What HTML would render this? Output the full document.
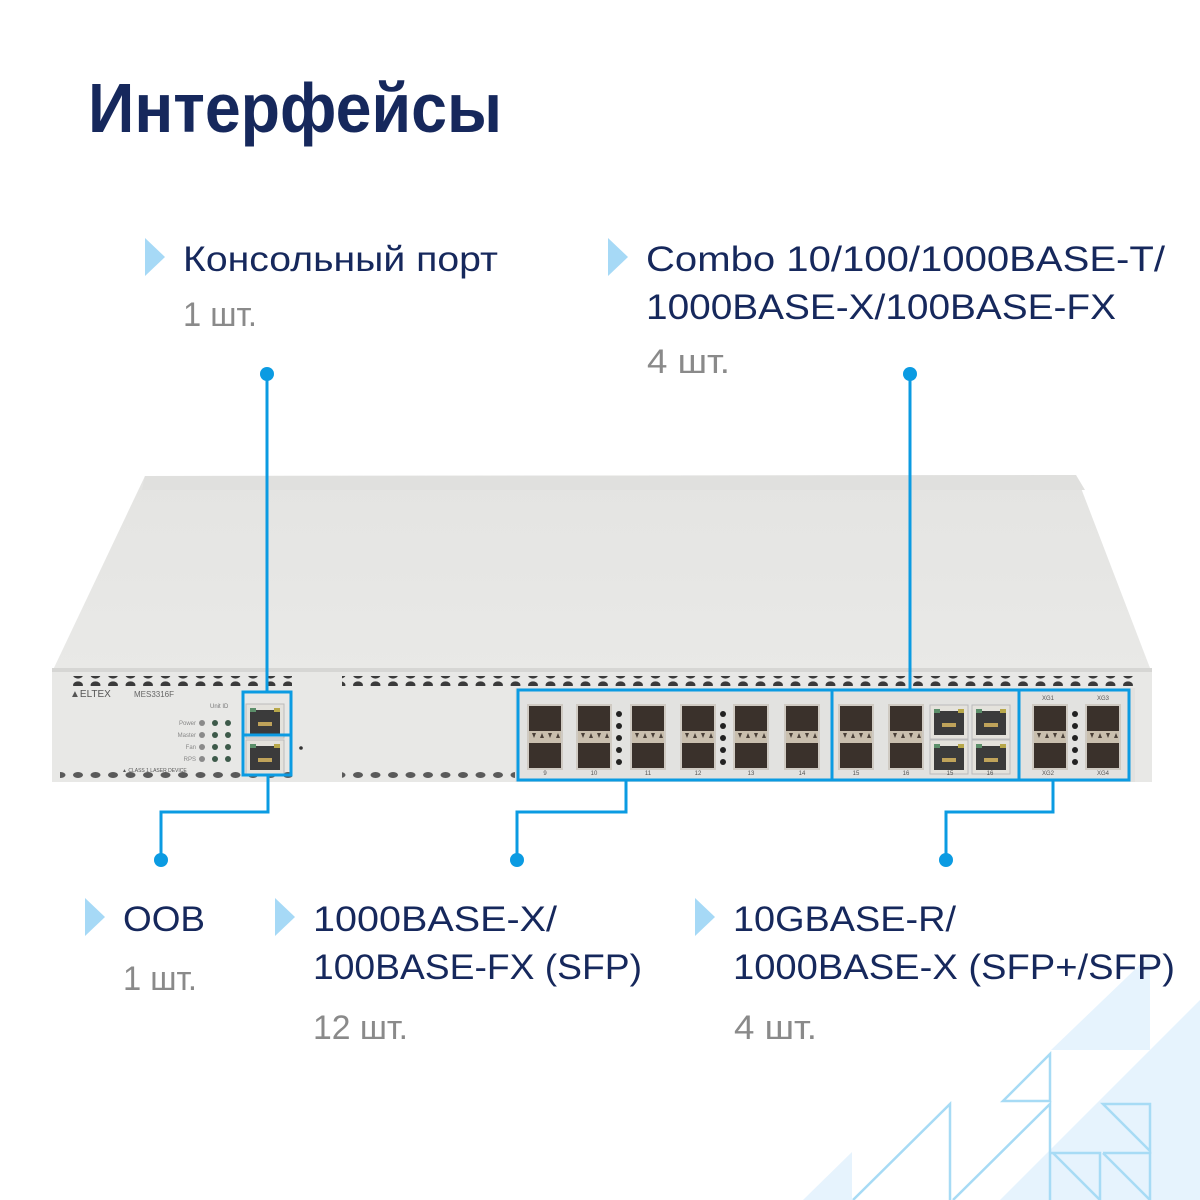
<!DOCTYPE html>
<html><head><meta charset="utf-8"><style>
html,body{margin:0;padding:0;background:#fff;}
svg{display:block}
.t{font-family:"Liberation Sans","Noto Sans CJK SC",sans-serif;fill:#16285c;}
.g{font-family:"Liberation Sans",sans-serif;fill:#8a8a8a;}
</style></head><body>
<svg width="1200" height="1200" viewBox="0 0 1200 1200" xmlns="http://www.w3.org/2000/svg">
<defs>
<linearGradient id="top" x1="0" y1="0" x2="0" y2="1"><stop offset="0" stop-color="#e4e4e2"/><stop offset="1" stop-color="#e9e9e7"/></linearGradient>
<pattern id="holes" x="0" y="0" width="17.5" height="10" patternUnits="userSpaceOnUse"><ellipse cx="8" cy="5" rx="5" ry="3.6" fill="#3b3b3b"/></pattern>
<pattern id="holes2" x="0" y="0" width="17.5" height="10" patternUnits="userSpaceOnUse"><ellipse cx="8" cy="5" rx="5" ry="3" fill="#5a5a5a"/></pattern>
<g id="sfp">
<rect x="0" y="0" width="36" height="66" fill="#cfcac2"/>
<rect x="2" y="2" width="32" height="28" fill="#3a312b"/>
<rect x="2" y="36" width="32" height="28" fill="#3a312b"/>
<rect x="2" y="27" width="32" height="12" fill="#c9bfae"/>
<path d="M5 29 l4 0 l-2 5z M13 34 l4 0 l-2 -5z M21 29 l4 0 l-2 5z M29 34 l4 0 l-2 -5z" fill="#4a4038"/>
</g>
<g id="rj">
<rect x="0" y="0" width="38" height="34" fill="#e4e2dc" stroke="#bbb"/>
<rect x="4" y="6" width="30" height="24" fill="#3b3b3b"/>
<rect x="4" y="4" width="6" height="4" fill="#5c8f6a"/><rect x="28" y="4" width="6" height="4" fill="#b8a84a"/>
<rect x="12" y="18" width="14" height="4" fill="#bfa35a"/>
</g>
</defs>

<!-- background decoration -->
<g fill="#e6f3fd">
<polygon points="1051,1050 1150,1050 1150,955"/>
<polygon points="1200,1000 1150,1050 1000,1200 1200,1200"/>
<polygon points="852,1152 852,1200 803,1200"/>
</g>
<g fill="none" stroke="#a7dbf5" stroke-width="2.5">
<polygon points="1050,1054 1050,1101 1003,1101"/>
<polyline points="853,1200 950,1104 950,1200"/>
<polyline points="953,1200 1050,1104 1050,1200"/>
<polygon points="1103,1104 1150,1104 1150,1151"/>
<polyline points="1050,1153 1100,1153 1100,1200"/>
<line x1="1053" y1="1153" x2="1100" y2="1200"/>
<polyline points="1103,1153 1150,1153 1150,1200"/>
<line x1="1103" y1="1153" x2="1150" y2="1200"/>
</g>

<!-- title -->
<text class="t" x="88" y="132" font-size="70" font-weight="bold" textLength="414" lengthAdjust="spacingAndGlyphs">Интерфейсы</text>

<!-- markers -->
<g fill="#a6d9f6">
<polygon points="145,238 165,257 145,276"/>
<polygon points="608,238 628,257 608,276"/>
<polygon points="85,898 105,917 85,936"/>
<polygon points="275,898 295,917 275,936"/>
<polygon points="695,898 715,917 695,936"/>
</g>

<!-- labels -->
<text class="t" x="183" y="271" font-size="35" textLength="315" lengthAdjust="spacingAndGlyphs">Консольный порт</text>
<text class="g" x="183" y="326" font-size="34" textLength="74" lengthAdjust="spacingAndGlyphs">1 шт.</text>
<text class="t" x="646" y="271" font-size="35" textLength="519" lengthAdjust="spacingAndGlyphs">Combo 10/100/1000BASE-T/</text>
<text class="t" x="646" y="319" font-size="35" textLength="470" lengthAdjust="spacingAndGlyphs">1000BASE-X/100BASE-FX</text>
<text class="g" x="647" y="373" font-size="34" textLength="83" lengthAdjust="spacingAndGlyphs">4 шт.</text>

<text class="t" x="123" y="931" font-size="35" textLength="82" lengthAdjust="spacingAndGlyphs">OOB</text>
<text class="g" x="123" y="990" font-size="34" textLength="74" lengthAdjust="spacingAndGlyphs">1 шт.</text>
<text class="t" x="313" y="931" font-size="35" textLength="244" lengthAdjust="spacingAndGlyphs">1000BASE-X/</text>
<text class="t" x="313" y="979" font-size="35" textLength="329" lengthAdjust="spacingAndGlyphs">100BASE-FX (SFP)</text>
<text class="g" x="313" y="1039" font-size="34" textLength="95" lengthAdjust="spacingAndGlyphs">12 шт.</text>
<text class="t" x="733" y="931" font-size="35" textLength="223" lengthAdjust="spacingAndGlyphs">10GBASE-R/</text>
<text class="t" x="733" y="979" font-size="35" textLength="442" lengthAdjust="spacingAndGlyphs">1000BASE-X (SFP+/SFP)</text>
<text class="g" x="734" y="1039" font-size="34" textLength="83" lengthAdjust="spacingAndGlyphs">4 шт.</text>

<!-- device -->
<polygon points="145,476 1076,475 1150,668 52,672" fill="url(#top)"/>
<polygon points="145,476 1076,475 1085,490 142,490" fill="#e0e0de"/>
<rect x="52" y="668" width="1100" height="114" fill="#e8e8e6"/>
<rect x="52" y="668" width="1100" height="4" fill="#d6d6d4"/>
<rect x="70" y="676" width="1070" height="10" fill="url(#holes)"/>
<rect x="60" y="771" width="1080" height="10" fill="url(#holes2)"/>
<rect x="292" y="676" width="50" height="10" fill="#e8e8e6"/>
<rect x="292" y="771" width="50" height="10" fill="#e8e8e6"/>
<rect x="515" y="688" width="620" height="94" fill="#e2e2e0"/>

<text x="70" y="697" font-family="Liberation Sans,sans-serif" font-size="10" fill="#555">▲ELTEX</text>
<text x="134" y="697" font-family="Liberation Sans,sans-serif" font-size="8" fill="#666">MES3316F</text>
<text x="210" y="708" font-family="Liberation Sans,sans-serif" font-size="6" fill="#777">Unit ID</text>
<g font-family="Liberation Sans,sans-serif" font-size="6" fill="#888" text-anchor="end">
<text x="196" y="725">Power</text><text x="196" y="737">Master</text><text x="196" y="749">Fan</text><text x="196" y="761">RPS</text></g>
<g fill="#8a8a8a"><circle cx="202" cy="723" r="3"/><circle cx="202" cy="735" r="3"/><circle cx="202" cy="747" r="3"/><circle cx="202" cy="759" r="3"/></g>
<g fill="#3d5a4a"><circle cx="215" cy="723" r="3"/><circle cx="228" cy="723" r="3"/><circle cx="215" cy="735" r="3"/><circle cx="228" cy="735" r="3"/><circle cx="215" cy="747" r="3"/><circle cx="228" cy="747" r="3"/><circle cx="215" cy="759" r="3"/><circle cx="228" cy="759" r="3"/></g>
<text x="122" y="772" font-family="Liberation Sans,sans-serif" font-size="5" fill="#555">▲ CLASS 1 LASER DEVICE</text>
<use href="#rj" x="246" y="704"/>
<use href="#rj" x="246" y="740"/>
<circle cx="301" cy="748" r="1.8" fill="#333"/>

<!-- ports -->
<use href="#sfp" x="527" y="704"/><use href="#sfp" x="576" y="704"/>
<use href="#sfp" x="630" y="704"/><use href="#sfp" x="680" y="704"/>
<use href="#sfp" x="733" y="704"/><use href="#sfp" x="784" y="704"/>
<use href="#sfp" x="838" y="704"/><use href="#sfp" x="888" y="704"/>
<use href="#rj" x="930" y="705"/><use href="#rj" x="972" y="705"/>
<use href="#rj" x="930" y="740"/><use href="#rj" x="972" y="740"/>
<use href="#sfp" x="1032" y="704"/><use href="#sfp" x="1085" y="704"/>
<g fill="#222"><circle cx="619" cy="714" r="3"/><circle cx="619" cy="726" r="3"/><circle cx="619" cy="738" r="3"/><circle cx="619" cy="750" r="3"/><circle cx="619" cy="762" r="3"/>
<circle cx="723" cy="714" r="3"/><circle cx="723" cy="726" r="3"/><circle cx="723" cy="738" r="3"/><circle cx="723" cy="750" r="3"/><circle cx="723" cy="762" r="3"/>
<circle cx="1075" cy="714" r="3"/><circle cx="1075" cy="726" r="3"/><circle cx="1075" cy="738" r="3"/><circle cx="1075" cy="750" r="3"/><circle cx="1075" cy="762" r="3"/></g>
<g font-family="Liberation Sans,sans-serif" font-size="6" fill="#555" text-anchor="middle">
<text x="545" y="775">9</text><text x="594" y="775">10</text><text x="648" y="775">11</text><text x="698" y="775">12</text><text x="751" y="775">13</text><text x="802" y="775">14</text>
<text x="856" y="775">15</text><text x="906" y="775">16</text><text x="950" y="775">15</text><text x="990" y="775">16</text>
<text x="1048" y="775">XG2</text><text x="1103" y="775">XG4</text><text x="1048" y="700">XG1</text><text x="1103" y="700">XG3</text></g>

<!-- connectors -->
<g stroke="#0b9be2" stroke-width="3" fill="none">
<rect x="243" y="692" width="48" height="43"/>
<rect x="243" y="735" width="48" height="40"/>
<rect x="518" y="690" width="314" height="90"/>
<rect x="832" y="690" width="187" height="90"/>
<rect x="1019" y="690" width="110" height="90"/>
<line x1="267" y1="374" x2="267" y2="692"/>
<polyline points="268,775 268,812 161,812 161,860"/>
<polyline points="626,780 626,812 517,812 517,860"/>
<line x1="910" y1="374" x2="910" y2="690"/>
<polyline points="1053,780 1053,812 946,812 946,860"/>
</g>
<g fill="#0b9be2">
<circle cx="267" cy="374" r="7"/><circle cx="910" cy="374" r="7"/>
<circle cx="161" cy="860" r="7"/><circle cx="517" cy="860" r="7"/><circle cx="946" cy="860" r="7"/>
</g>
</svg>
</body></html>
